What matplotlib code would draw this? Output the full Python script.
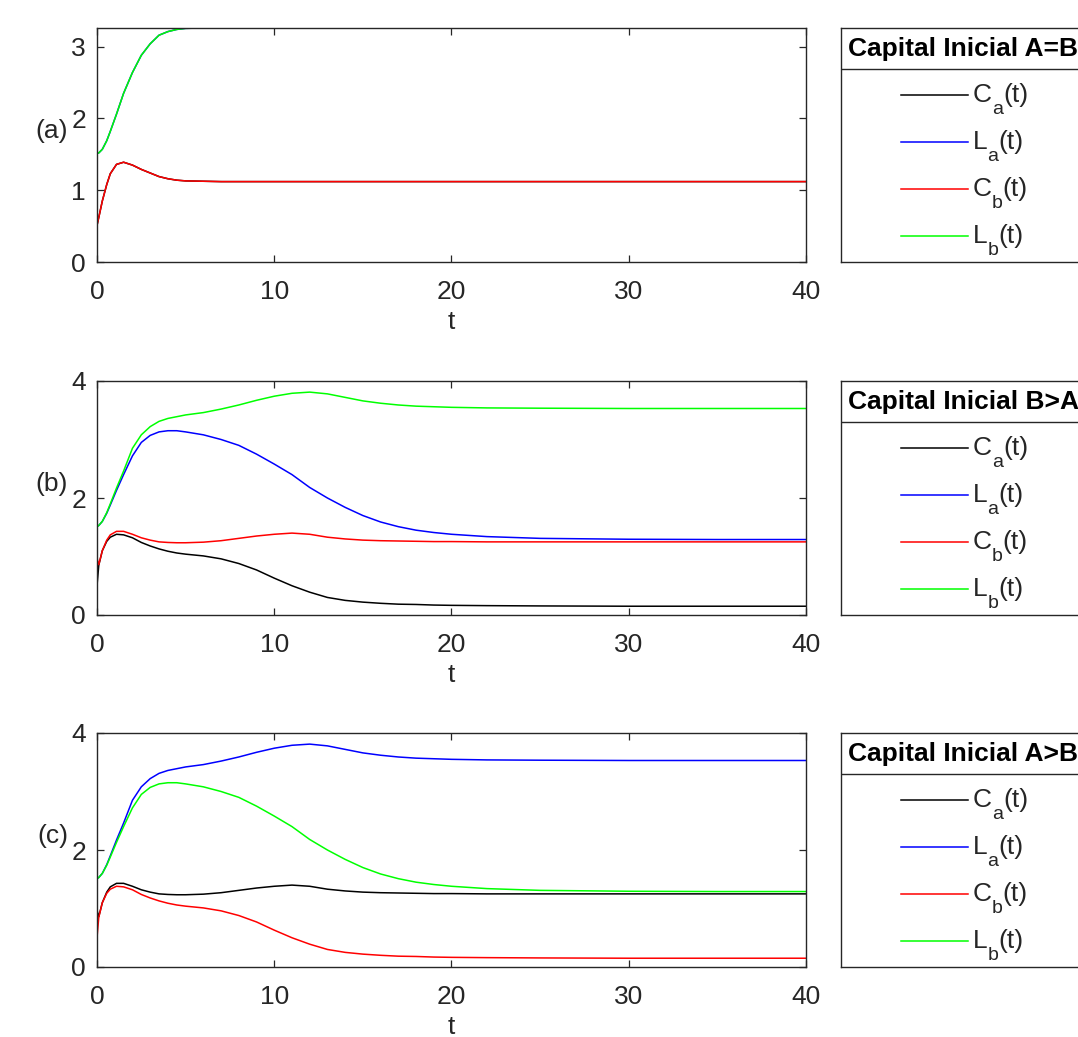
import matplotlib
matplotlib.use("Agg")
import matplotlib.pyplot as plt
from matplotlib.lines import Line2D
from matplotlib.transforms import offset_copy

plt.rcParams["font.family"] = "Liberation Sans"

# ── Data ──────────────────────────────────────────────────────────────────────
t = [0, 0.1, 0.3, 0.55, 0.75, 1.1, 1.5, 2, 2.5, 3, 3.5, 4, 4.5, 5, 6, 7, 8,
     9, 10, 11, 12, 13, 14, 15, 16, 17, 18, 19, 20, 22, 25, 30, 35, 40]

# (a) A = B : C_a = C_b and L_a = L_b
c_eq = [0.51, 0.62, 0.85, 1.08, 1.23, 1.36, 1.39, 1.35, 1.29, 1.24, 1.19,
        1.16, 1.14, 1.13, 1.125, 1.12, 1.12, 1.12, 1.12, 1.12, 1.12, 1.12,
        1.12, 1.12, 1.12, 1.12, 1.12, 1.12, 1.12, 1.12, 1.12, 1.12, 1.12, 1.12]
l_eq = [1.51, 1.52, 1.57, 1.69, 1.82, 2.06, 2.35, 2.64, 2.88, 3.04, 3.16,
        3.21, 3.24, 3.255, 3.26, 3.26, 3.26, 3.26, 3.26, 3.26, 3.26, 3.26,
        3.26, 3.26, 3.26, 3.26, 3.26, 3.26, 3.26, 3.26, 3.26, 3.26, 3.26, 3.26]

# (b) B > A
ca_b = [0.50, 0.85, 1.10, 1.26, 1.33, 1.38, 1.37, 1.32, 1.24, 1.18, 1.13,
        1.09, 1.06, 1.04, 1.01, 0.96, 0.88, 0.77, 0.63, 0.50, 0.39, 0.30,
        0.25, 0.22, 0.20, 0.185, 0.18, 0.17, 0.165, 0.16, 0.155, 0.15, 0.15, 0.15]
la_b = [1.51, 1.53, 1.60, 1.74, 1.88, 2.13, 2.40, 2.72, 2.95, 3.07, 3.13,
        3.15, 3.15, 3.13, 3.08, 3.00, 2.90, 2.75, 2.58, 2.40, 2.18, 2.00,
        1.84, 1.70, 1.59, 1.51, 1.45, 1.41, 1.38, 1.34, 1.31, 1.295, 1.29, 1.29]
cb_b = [0.97, 0.86, 1.10, 1.28, 1.37, 1.43, 1.43, 1.38, 1.32, 1.28, 1.25,
        1.24, 1.235, 1.235, 1.245, 1.27, 1.31, 1.35, 1.38, 1.40, 1.38, 1.33,
        1.30, 1.28, 1.27, 1.265, 1.26, 1.255, 1.255, 1.25, 1.25, 1.25, 1.25, 1.25]
lb_b = [1.51, 1.53, 1.60, 1.75, 1.90, 2.17, 2.46, 2.85, 3.08, 3.22, 3.31,
        3.36, 3.39, 3.42, 3.46, 3.52, 3.59, 3.67, 3.74, 3.79, 3.81, 3.78,
        3.72, 3.66, 3.62, 3.59, 3.57, 3.56, 3.55, 3.54, 3.535, 3.53, 3.53, 3.53]

# (c) A > B is the mirror of (b)
ca_c, la_c, cb_c, lb_c = cb_b, lb_b, ca_b, la_b

panels = [
    ("(a)", "Capital Inicial A=B", [c_eq, l_eq, c_eq, l_eq], 3.26, [0, 1, 2, 3]),
    ("(b)", "Capital Inicial B>A", [ca_b, la_b, cb_b, lb_b], 4, [0, 2, 4]),
    ("(c)", "Capital Inicial A>B", [ca_c, la_c, cb_c, lb_c], 4, [0, 2, 4]),
]
labels = [("C", "a"), ("L", "a"), ("C", "b"), ("L", "b")]
colors = ["#000000", "#0000ff", "#ff0000", "#00ff00"]

# ── Layout (pixel boxes) ──────────────────────────────────────────────────────
W, H = 1078, 1037
fig = plt.figure(figsize=(W / 100, H / 100), dpi=100)
renderer = fig.canvas.get_renderer()
tops = [28, 381, 733]
bots = [262, 615, 967]
AX_L, AX_R = 97, 806
LG_L, LG_R = 841, 1120
GRAY = "#262626"
FS = 19


def sub_label(ax, x, y, main, sub):
    """MATLAB-style label like C_a(t): big subscript dropped well below."""
    t1 = ax.text(x, y, main, fontsize=FS, ha="left", va="baseline", color=GRAY)
    w1 = t1.get_window_extent(renderer).width * 72 / fig.dpi
    tr2 = offset_copy(ax.transData, fig=fig, x=w1, y=-8.5, units="points")
    t2 = ax.text(x, y, sub, fontsize=14, ha="left", va="baseline",
                 color=GRAY, transform=tr2)
    w2 = t2.get_window_extent(renderer).width * 72 / fig.dpi
    tr3 = offset_copy(ax.transData, fig=fig, x=w1 + w2, y=0, units="points")
    ax.text(x, y, "(t)", fontsize=FS, ha="left", va="baseline",
            color=GRAY, transform=tr3)


for (tag, title, series, ytop, yticks), top, bot in zip(panels, tops, bots):
    ax = fig.add_axes([AX_L / W, 1 - bot / H, (AX_R - AX_L) / W, (bot - top) / H])
    for y, c in zip(series, colors):
        ax.plot(t, y, color=c, linewidth=1.1)
    ax.set_xlim(0, 40)
    ax.set_ylim(0, ytop)
    ax.set_xticks([0, 10, 20, 30, 40])
    ax.set_yticks(yticks)
    ax.tick_params(direction="in", length=5, width=0.9, top=True, right=True,
                   labelsize=FS, colors=GRAY)
    ax.tick_params(axis="x", pad=13)
    ax.tick_params(axis="y", pad=8)
    for s in ax.spines.values():
        s.set_color(GRAY)
        s.set_linewidth(1.0)
    ax.set_xlabel("t", fontsize=FS, color=GRAY, labelpad=4)
    ax.text(-0.041, 0.56, tag, transform=ax.transAxes, ha="right",
            va="center", fontsize=FS, color=GRAY)

    # legend box drawn by hand (it runs off the right edge, as in the source)
    lg = fig.add_axes([LG_L / W, 1 - bot / H, (LG_R - LG_L) / W, (bot - top) / H])
    lg.set_xlim(LG_L, LG_R)
    lg.set_ylim(bot, top)
    lg.set_xticks([])
    lg.set_yticks([])
    for s in lg.spines.values():
        s.set_color(GRAY)
        s.set_linewidth(1.0)
    lg.axhline(top + 41, color=GRAY, linewidth=1.0)
    lg.text(848, top + 21, title, fontsize=FS, fontweight="bold",
            ha="left", va="center", color="black")
    for i, ((main, sub), c) in enumerate(zip(labels, colors)):
        yy = top + 67 + 47 * i
        lg.add_line(Line2D([901, 968], [yy, yy], color=c, linewidth=1.1))
        sub_label(lg, 973, yy + 7, main, sub)

fig.savefig("out.png", dpi=100, facecolor="white")
